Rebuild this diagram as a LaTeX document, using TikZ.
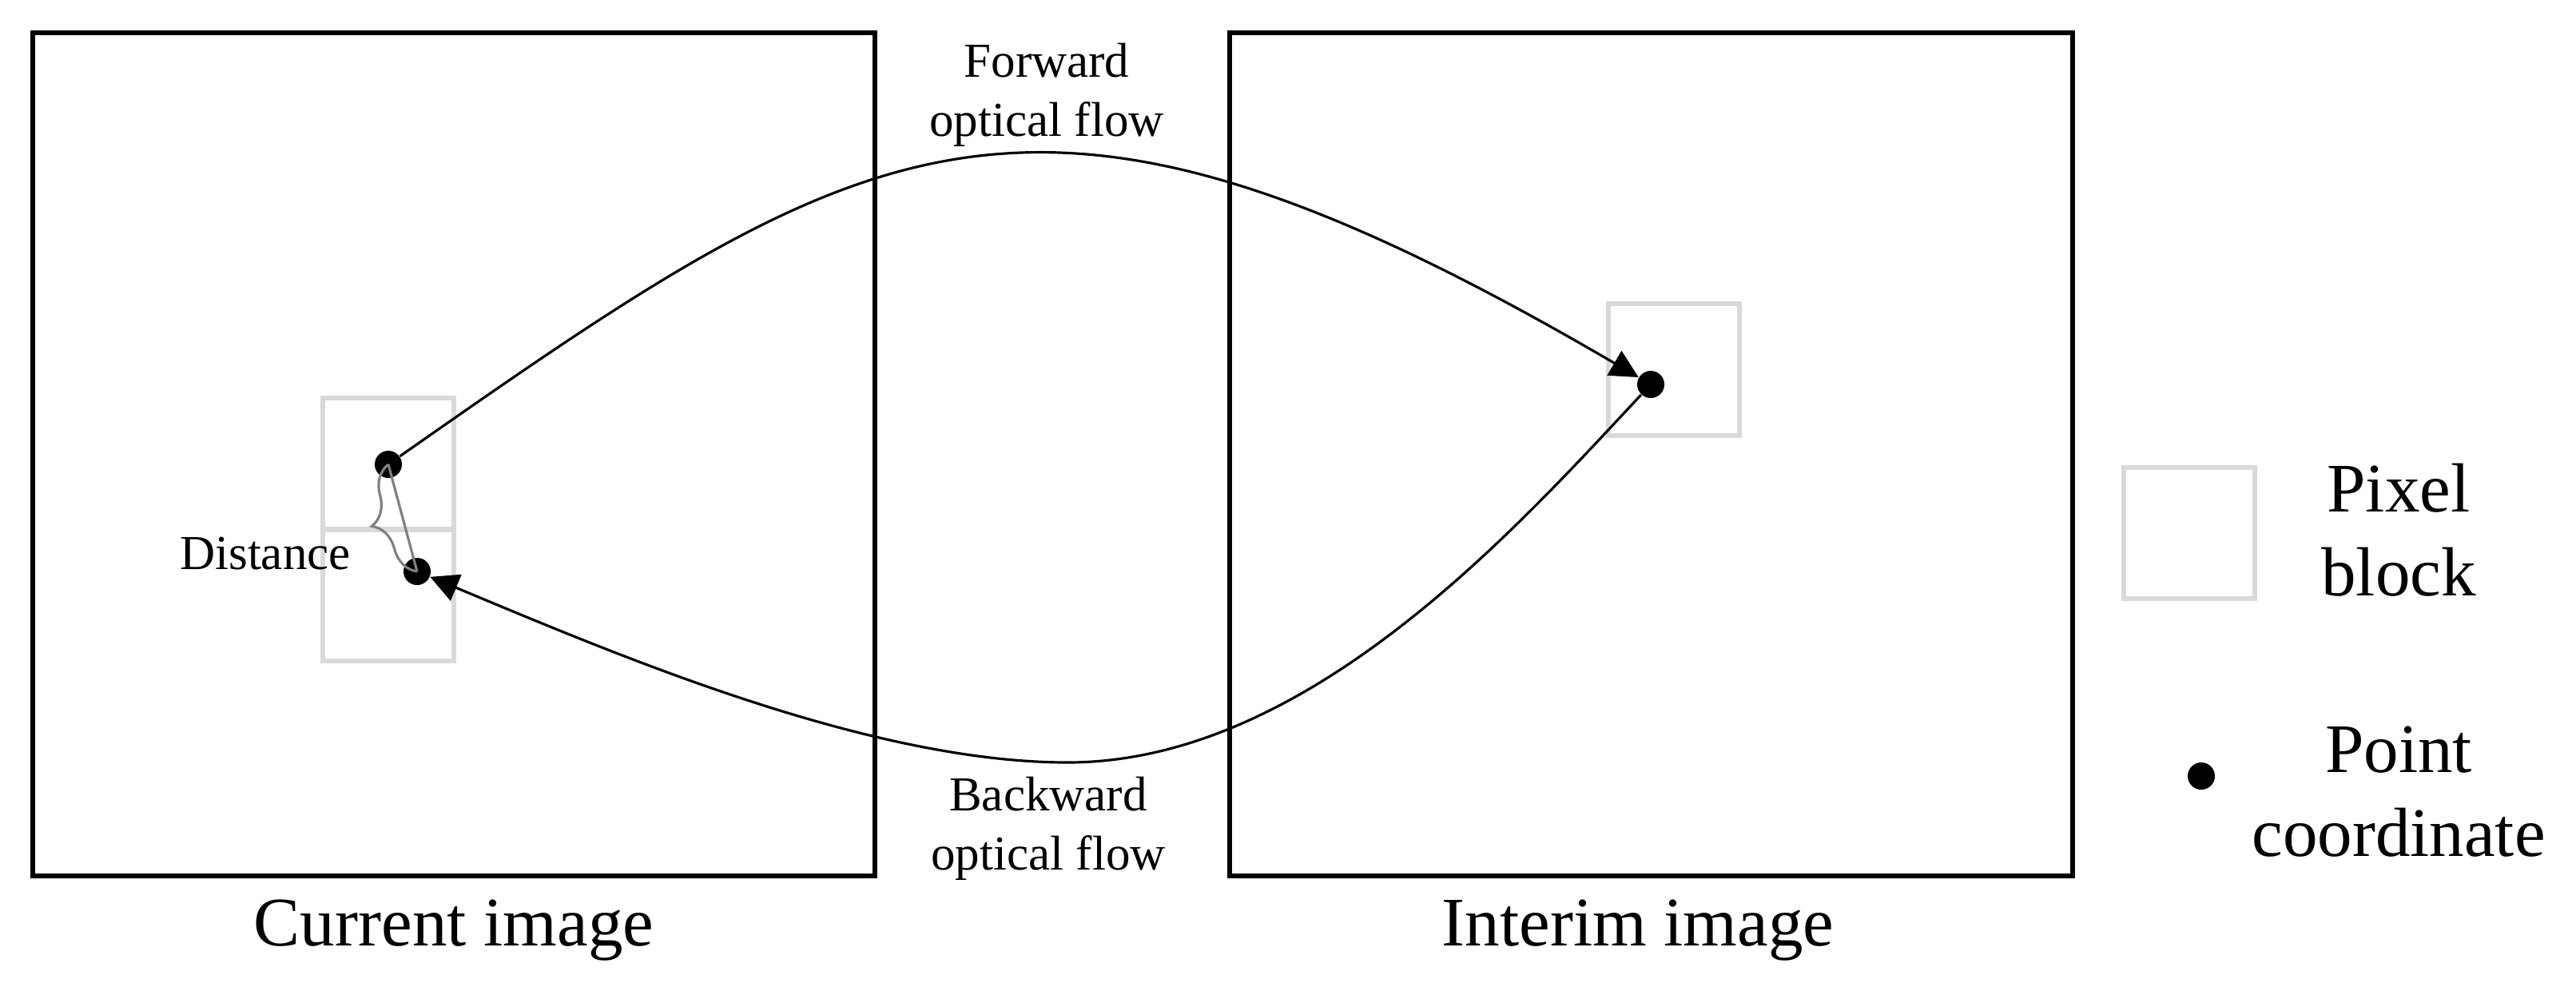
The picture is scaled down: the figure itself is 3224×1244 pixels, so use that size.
\documentclass[tikz,border=0pt]{standalone}
\usepackage{fontspec}
\setmainfont{Liberation Serif}
\usetikzlibrary{arrows.meta,decorations.pathreplacing}
\definecolor{blockgray}{HTML}{D9D9D9}
\definecolor{distgray}{HTML}{808080}
\begin{document}
\begin{tikzpicture}[x=0.01cm,y=-0.01cm,
  imgbox/.style={draw=black,line width=1.7pt,minimum width=10.54cm,minimum height=10.55cm,inner sep=0pt},
  pixblock/.style={draw=blockgray,line width=1.7pt,minimum size=1.64cm,inner sep=0pt},
  dot/.style={circle,fill=black,inner sep=0pt,minimum size=0.34cm},
  flow/.style={line width=0.9pt,-{Triangle[length=10pt,width=10pt]}},
  big/.style={font=\fontsize{24.75}{29.7}\selectfont,inner sep=0pt,align=center},
  small/.style={font=\fontsize{17.36}{20.8}\selectfont,inner sep=0pt,align=center},
  distline/.style={draw=distgray,line width=0.9pt}]
\useasboundingbox (0,0) rectangle (3224,1244);
% image frames
\node[imgbox] (cur) at (568,568.5) {};
\node[imgbox] (int) at (2066.5,568.5) {};
% pixel blocks
\node[pixblock] (b1) at (486,580.5) {};
\node[pixblock] (b2) at (486,744.5) {};
\node[pixblock] (b3) at (2095,462.5) {};
% points
\node[dot] (d1) at (486,581) {};
\node[dot] (d3) at (522,715) {};
\node[dot] (d2) at (2066,481) {};
\coordinate (bot) at (1336,954);
% flows
\draw[flow] (d1) .. controls (1092,157) and (1290,27) .. (d2);
\draw[flow] (d2) .. controls (1895,664) and (1636,954) .. (bot)
                 .. controls (1086,954) and (769,818) .. (d3);
% distance
\draw[distline] (d1.center) -- (d3.center);
\draw[distline,decorate,decoration={brace,amplitude=11.4pt}] (d3.center) -- (d1.center);
% labels (base anchor = baseline of the last line)
\node[small,anchor=base] (ldist) at (332,712) {Distance};
\node[small,anchor=base] (lfwd) at (1310,170) {Forward\\optical flow};
\node[small,anchor=base] (lbwd) at (1312,1088) {Backward\\optical flow};
\node[big,anchor=base] (lcur) at (568,1183) {Current image};
\node[big,anchor=base] (lint) at (2050,1183) {Interim image};
% legend
\node[pixblock] (legblock) at (2740,667) {};
\node[dot] (legdot) at (2755,971) {};
\node[big,anchor=base] (lpix) at (3002,745) {Pixel\\block};
\node[big,anchor=base] (lpt) at (3002,1071) {Point\\coordinate};
\end{tikzpicture}
\end{document}
